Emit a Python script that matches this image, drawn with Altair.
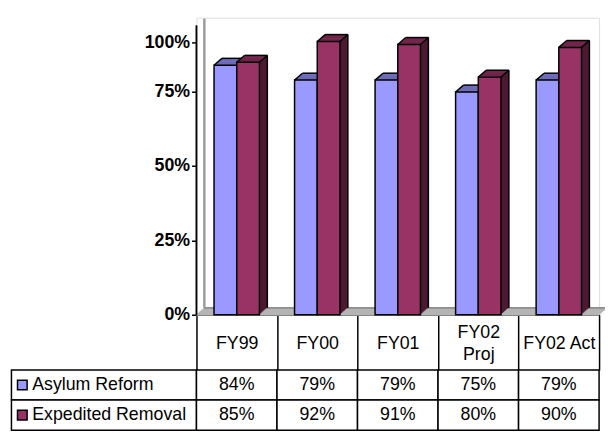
import altair as alt
import pandas as pd

# ---------------- data ----------------
categories = ["FY99", "FY00", "FY01", "FY02 Proj", "FY02 Act"]
series_names = ["Asylum Reform", "Expedited Removal"]
asylum_reform = [84, 79, 79, 75, 79]
expedited_removal = [85, 92, 91, 80, 90]
y_ticks = [0, 25, 50, 75, 100]

# ---------------- style ----------------
FONT = "Liberation Sans"
BLUE, BLUE_TOP, BLUE_SIDE = "#9999FF", "#7373C4", "#55558F"
RED, RED_TOP, RED_SIDE = "#993366", "#7A2952", "#4D1A33"
W, H = 408, 301          # plot area
HEADER_H = 56            # header row (category labels) height
ROW_H = 30.5
LEG_W = 187.5            # width of legend column of table
BW = 23                  # bar width
DX, DY, STEPS = 8, 7, 8  # 3-D depth
AXIS_TOP = 8             # top of the vertical axis line (px below plot top)

rows = []
for s, vals in zip(series_names, [asylum_reform, expedited_removal]):
    for c, v in zip(categories, vals):
        rows.append({"category": c, "series": s, "value": v, "label": f"{v}%"})
df = pd.DataFrame(rows)
df_series = pd.DataFrame({"series": series_names})
df_ticks = pd.DataFrame({"tick": y_ticks})

label_expr = "datum.value == 'FY02 Proj' ? ['FY02', 'Proj'] : datum.label"

x_enc = alt.X(
    "category:N",
    sort=categories,
    scale=alt.Scale(domain=categories, paddingInner=0, paddingOuter=0),
    axis=alt.Axis(
        title=None, tickBand="extent", tickSize=HEADER_H, tickWidth=1.5,
        tickColor="black", domainColor="black", domainWidth=1.5,
        labelAngle=0, labelFont=FONT, labelFontSize=18, labelColor="black",
        labelPadding=-(HEADER_H - 29),
        labelBaseline={"condition": {"test": "datum.value == 'FY02 Proj'", "value": "line-bottom"},
                       "value": "middle"},
        labelExpr=label_expr, labelLineHeight=22, labelOverlap=False,
        grid=False,
    ),
)
y_val = alt.Y("value:Q", scale=alt.Scale(domain=[0, 100], nice=False, zero=True), axis=None)

base = alt.Chart(df)

# ---------- floor and wall ----------
deco = []
for k in range(STEPS + 1):
    deco.append(
        alt.Chart(df_series).mark_rule(color="#B4B4B4", strokeWidth=1.3).encode(
            x=alt.value(DX * k / STEPS), x2=alt.value(W + DX * k / STEPS),
            y=alt.value(H - DY * k / STEPS),
        )
    )
deco.append(
    alt.Chart(df_series).mark_rule(color="#8C8C8C", strokeWidth=1.3).encode(
        x=alt.value(DX), x2=alt.value(W + DX), y=alt.value(H - DY)
    )
)
deco.append(
    alt.Chart(df_series).mark_rule(color="#999999", strokeWidth=2).encode(
        x=alt.value(DX), y=alt.value(AXIS_TOP - DY), y2=alt.value(H - DY)
    )
)
deco.append(
    alt.Chart(df_series).mark_rule(color="black", strokeWidth=1.5).encode(
        x=alt.value(0), y=alt.value(AXIS_TOP), y2=alt.value(H)
    )
)


def prism(name, a0, front, top, side):
    src = base.transform_filter(alt.datum.series == name)
    c0 = a0 + BW / 2
    out = []
    for k in range(STEPS, 0, -1):
        ox, oy = c0 + DX * k / STEPS, -DY * k / STEPS
        out.append(src.mark_bar(width=BW, xOffset=ox, yOffset=oy, y2Offset=oy, color=side).encode(
            x=x_enc, y=y_val, y2=alt.datum(0)))
    for k in range(1, STEPS + 1):
        ox = c0 + DX * k / STEPS
        out.append(src.mark_bar(width=BW, xOffset=ox, yOffset=-DY * k / STEPS,
                                y2Offset=-DY * (k - 1) / STEPS, color=top).encode(
            x=x_enc, y=y_val, y2=alt.Y2("value:Q")))
    out.append(src.mark_bar(width=BW, xOffset=c0, color=front, stroke="black", strokeWidth=1.5).encode(
        x=x_enc, y=y_val, y2=alt.datum(0)))
    a1 = a0 + BW
    edges = [
        (a0, 0, a0 + DX, -DY, "top"),
        (a1, 0, a1 + DX, -DY, "top"),
        (a0 + DX, -DY, a1 + DX, -DY, "top"),
        (a1 + DX, -DY, a1 + DX, -DY, "side"),
    ]
    for xa, ya, xb, yb, kind in edges:
        enc = dict(x=x_enc, x2=alt.X2("category:N"), y=y_val)
        enc["y2"] = alt.Y2("value:Q") if kind == "top" else alt.datum(0)
        out.append(src.mark_rule(color="black", strokeWidth=1.5, xOffset=xa, x2Offset=xb,
                                 yOffset=ya, y2Offset=yb).encode(**enc))
    return out


bars = alt.layer(
    *deco,
    *prism(series_names[0], -BW, BLUE, BLUE_TOP, BLUE_SIDE),
    *prism(series_names[1], 0, RED, RED_TOP, RED_SIDE),
)

# ---------- y axis (0% .. 100%) ----------
axis_layer = alt.Chart(df_ticks).mark_point(opacity=0).encode(
    y=alt.Y(
        "tick:Q",
        scale=alt.Scale(domain=[0, 75, 100], range=[H, H - 226, H - 276], nice=False, zero=False),
        axis=alt.Axis(
            orient="left", title=None, values=y_ticks, labelExpr="datum.value + '%'",
            labelFont=FONT, labelFontSize=18, labelFontWeight="bold", labelColor="black",
            tickSize=5, tickWidth=1.5, tickColor="black", domain=False,
            labelPadding=2, grid=False,
        ),
    )
)

# ---------- data table ----------
y_row = alt.Y(
    "series:N",
    sort=series_names,
    scale=alt.Scale(domain=series_names, range=[H + HEADER_H, H + HEADER_H + 2 * ROW_H],
                    paddingInner=0, paddingOuter=0),
    axis=None,
)
table = alt.layer(
    alt.Chart(df_series).mark_rect(fill="white", stroke="black", strokeWidth=1.5).encode(
        x=alt.value(-LEG_W), x2=alt.value(0), y=y_row),
    base.mark_rect(fill="white", stroke="black", strokeWidth=1.5).encode(x=x_enc, y=y_row),
    alt.Chart(df_series).mark_square(size=95, stroke="black", strokeWidth=1.5, opacity=1).encode(
        x=alt.value(-LEG_W + 11), y=y_row,
        color=alt.Color("series:N", scale=alt.Scale(domain=series_names, range=[BLUE, RED]), legend=None)),
    alt.Chart(df_series).mark_text(align="left", baseline="middle", font=FONT, fontSize=18, color="black").encode(
        x=alt.value(-LEG_W + 21), y=y_row, text="series:N"),
    base.mark_text(baseline="middle", font=FONT, fontSize=18, color="black").encode(
        x=x_enc, y=y_row, text="label:N"),
)

chart = alt.layer(bars, axis_layer, table).resolve_scale(y="independent").properties(
    width=W, height=H,
    padding={"left": 191, "top": 7, "right": 6, "bottom": 118},
    autosize=alt.AutoSizeParams(type="none"),
).configure_view(stroke=None).configure(background="white")

chart.save("out.html", embed_options={"renderer": "svg", "actions": False})
